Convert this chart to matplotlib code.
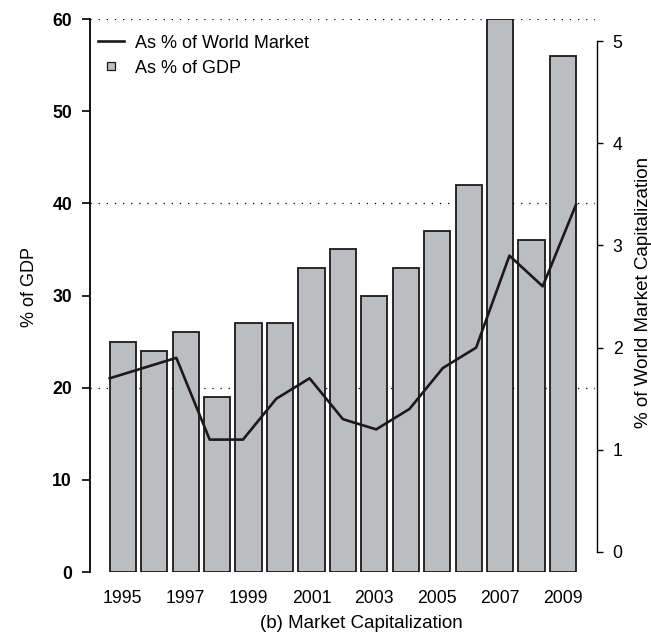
import numpy as np
import matplotlib
matplotlib.use('Agg')
import matplotlib.pyplot as plt
from matplotlib.lines import Line2D

plt.rcParams['font.family'] = ['Liberation Sans', 'DejaVu Sans']

years = [1995, 1996, 1997, 1998, 1999, 2000, 2001, 2002,
         2003, 2004, 2005, 2006, 2007, 2008, 2009]
gdp_pct = [25, 24, 26, 19, 27, 27, 33, 35, 30, 33, 37, 42, 60, 36, 56]
world_pct = [1.7, 1.8, 1.9, 1.1, 1.1, 1.5, 1.7, 1.3, 1.2, 1.4, 1.8, 2.0, 2.9, 2.6, 3.4]
year_ticks = [1995, 1997, 1999, 2001, 2003, 2005, 2007, 2009]
gdp_ticks = [0, 10, 20, 30, 40, 50, 60]
world_ticks = [0, 1, 2, 3, 4, 5]
grid_levels = [20, 40, 60]

bar_color = '#bcbdc1'
bar_width = 0.833

fig = plt.figure(figsize=(6.51, 6.37), dpi=100)
ax = fig.add_axes([0.138, 0.102, 0.776, 0.868])

for level in grid_levels:
    ax.axhline(level, color='black', lw=0.9, ls=(0, (1, 5.5)), zorder=0)

ax.bar(years, gdp_pct, width=bar_width, color=bar_color,
       edgecolor='#1a1a1a', linewidth=1.3, zorder=2)

ax.set_xlim(1993.95, 2010.02)
ax.set_ylim(0, 60)
ax.set_xticks(year_ticks)
ax.set_xticklabels([str(y) for y in year_ticks])
ax.set_yticks(gdp_ticks)
ax.tick_params(axis='x', length=0, pad=13, labelsize=12.7)
ax.tick_params(axis='y', length=5.8, width=1.2, pad=7, labelsize=12.7)
for lbl in ax.get_yticklabels():
    lbl.set_fontweight('bold')
for side in ['top', 'right', 'bottom']:
    ax.spines[side].set_visible(False)
ax.spines['left'].set_bounds(0, 60)
ax.spines['left'].set_linewidth(1.3)

# the line is stretched so it runs from the first bar's left edge to the last bar's right edge
x0 = years[0] - bar_width / 2
x1 = years[-1] + bar_width / 2
line_x = [x0 + (y - years[0]) * (x1 - x0) / (years[-1] - years[0]) for y in years]

ax2 = ax.twinx()
ax2.plot(line_x, world_pct, color='#1a1a1a', lw=1.9, zorder=3)
ax2.set_ylim(-0.196, 5.215)
ax2.set_yticks(world_ticks)
ax2.tick_params(axis='y', length=4.3, width=1.0, pad=7, labelsize=12.7)
for side in ['top', 'left', 'bottom']:
    ax2.spines[side].set_visible(False)
ax2.spines['right'].set_bounds(0, 5)
ax2.spines['right'].set_position(('outward', 1.4))
ax2.spines['right'].set_linewidth(1.0)

handles = [
    Line2D([], [], color='#1a1a1a', lw=1.9),
    Line2D([], [], ls='none', marker='s', markersize=6, markerfacecolor=bar_color,
           markeredgecolor='#1a1a1a', markeredgewidth=0.9),
]
ax2.legend(handles, ['As % of World Market', 'As % of GDP'], loc='upper left',
           bbox_to_anchor=(0.016, 0.972), frameon=False, fontsize=13,
           handlelength=1.45, handletextpad=0.6, labelspacing=0.45,
           borderpad=0, borderaxespad=0)

fig.text(29 / 651, 1 - 287 / 637, '% of GDP', rotation=90, ha='center', va='center', fontsize=13)
fig.text(643 / 651, 1 - 292 / 637, '% of World Market Capitalization', rotation=90,
         ha='center', va='center', fontsize=13.5)
fig.text(361 / 651, 1 - 624 / 637, '(b) Market Capitalization', ha='center', va='center',
         fontsize=13.5)

fig.savefig('out.png', dpi=100)
